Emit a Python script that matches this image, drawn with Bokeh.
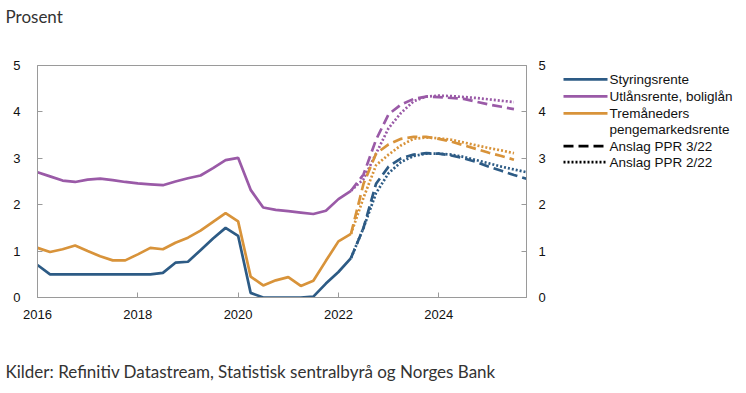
from bokeh.plotting import figure
from bokeh.layouts import row
from bokeh.models import LinearAxis, FixedTicker, Range1d, Title
from bokeh.core.properties import value
from bokeh.embed import file_html
from bokeh.resources import INLINE

# ---------------- data ----------------
hist_x = [2016.0, 2016.25, 2016.5, 2016.75, 2017.0, 2017.25, 2017.5, 2017.75,
          2018.0, 2018.25, 2018.5, 2018.75, 2019.0, 2019.25, 2019.5, 2019.75,
          2020.0, 2020.25, 2020.5, 2020.75, 2021.0, 2021.25, 2021.5, 2021.75,
          2022.0, 2022.25]
styring_hist = [0.70, 0.50, 0.50, 0.50, 0.50, 0.50, 0.50, 0.50,
                0.50, 0.50, 0.53, 0.75, 0.77, 1.02, 1.27, 1.50,
                1.33, 0.10, 0.00, 0.00, 0.00, 0.00, 0.02, 0.30,
                0.55, 0.85]
utlan_hist = [2.70, 2.61, 2.52, 2.49, 2.54, 2.56, 2.53, 2.49,
              2.46, 2.44, 2.42, 2.50, 2.57, 2.63, 2.79, 2.96,
              3.01, 2.32, 1.94, 1.89, 1.86, 1.83, 1.80, 1.87,
              2.12, 2.30]
trem_hist = [1.07, 0.98, 1.04, 1.12, 1.00, 0.89, 0.80, 0.80,
             0.93, 1.07, 1.04, 1.18, 1.29, 1.44, 1.63, 1.82,
             1.64, 0.45, 0.26, 0.37, 0.44, 0.25, 0.36, 0.79,
             1.21, 1.37]

fc_x = [2022.25, 2022.5, 2022.75, 2023.0, 2023.25, 2023.5, 2023.75, 2024.0,
        2024.25, 2024.5, 2024.75, 2025.0, 2025.25, 2025.5, 2025.75]
styring_ppr3 = [0.85, 1.50, 2.45, 2.82, 3.00, 3.08, 3.11, 3.10,
                3.06, 3.00, 2.92, 2.82, 2.73, 2.64, 2.56]
styring_ppr2 = [0.85, 1.50, 2.25, 2.68, 2.92, 3.05, 3.10, 3.10,
                3.08, 3.03, 2.96, 2.89, 2.82, 2.76, 2.70]
fc_x_short = [2022.25, 2022.5, 2022.75, 2023.0, 2023.25, 2023.5, 2023.75, 2024.0,
              2024.25, 2024.5, 2024.75, 2025.0, 2025.25, 2025.5]
utlan_ppr3 = [2.30, 2.65, 3.40, 3.95, 4.16, 4.28, 4.33, 4.32,
              4.30, 4.28, 4.22, 4.16, 4.11, 4.06]
utlan_ppr2 = [2.30, 2.55, 3.10, 3.65, 3.98, 4.23, 4.33, 4.35,
              4.34, 4.32, 4.30, 4.27, 4.24, 4.21]
trem_ppr3 = [1.37, 2.45, 3.10, 3.30, 3.42, 3.46, 3.46, 3.42,
             3.36, 3.28, 3.20, 3.12, 3.05, 2.97]
trem_ppr2 = [1.37, 2.15, 2.85, 3.08, 3.28, 3.42, 3.45, 3.43,
             3.40, 3.34, 3.28, 3.22, 3.17, 3.11]

x_ticks = [2016, 2018, 2020, 2022, 2024]
x_tick_labels = ["2016", "2018", "2020", "2022", "2024"]
y_ticks = [0, 1, 2, 3, 4, 5]

legend_labels = ["Styringsrente", "Utlånsrente, boliglån", "Tremåneders",
                 "pengemarkedsrente", "Anslag PPR 3/22", "Anslag PPR 2/22"]
title_text = "Prosent"
source_text = "Kilder: Refinitiv Datastream, Statistisk sentralbyrå og Norges Bank"

# ---------------- style ----------------
BLUE = "#2d5b85"
PURPLE = "#9a5aa7"
ORANGE = "#d8933a"
AXIS = "#9a9a9a"
FONT = "Liberation Sans"
LW = 2.7
DASH = "10 5"
DOT = "2 2"

p = figure(width=555, height=393, x_range=Range1d(2016, 2025.75),
           y_range=Range1d(0, 5), output_backend="svg", toolbar_location=None,
           min_border_left=37, min_border_right=29, min_border_top=0,
           min_border_bottom=0, background_fill_color="white",
           border_fill_color="white", title=None)
p.grid.visible = False
p.outline_line_color = AXIS
p.outline_line_width = 1

# historical
p.line(hist_x, styring_hist, line_color=BLUE, line_width=LW)
p.line(hist_x, utlan_hist, line_color=PURPLE, line_width=LW)
p.line(hist_x, trem_hist, line_color=ORANGE, line_width=LW)

# forecasts
p.line(fc_x_short, utlan_ppr2, line_color=PURPLE, line_width=LW, line_dash=DOT)
p.line(fc_x_short, utlan_ppr3, line_color=PURPLE, line_width=LW, line_dash=DASH)
p.line(fc_x_short, trem_ppr2, line_color=ORANGE, line_width=LW, line_dash=DOT)
p.line(fc_x_short, trem_ppr3, line_color=ORANGE, line_width=LW, line_dash=DASH)
p.line(fc_x, styring_ppr2, line_color=BLUE, line_width=LW, line_dash=DOT)
p.line(fc_x, styring_ppr3, line_color=BLUE, line_width=LW, line_dash=DASH)

def style_axis(ax, standoff):
    ax.axis_line_color = AXIS
    ax.major_tick_line_color = AXIS
    ax.major_tick_in = 5
    ax.major_tick_out = 0
    ax.minor_tick_line_color = None
    ax.major_label_text_font = FONT
    ax.major_label_text_font_size = "13px"
    ax.major_label_text_color = "#111111"
    ax.major_label_standoff = standoff

p.xaxis.ticker = FixedTicker(ticks=x_ticks)
p.xaxis.major_label_overrides = {t: l for t, l in zip(x_ticks, x_tick_labels)}
style_axis(p.xaxis[0], 12)
p.yaxis.ticker = FixedTicker(ticks=y_ticks)
style_axis(p.yaxis[0], 17)

yr = LinearAxis(ticker=FixedTicker(ticks=y_ticks))
style_axis(yr, 12)
p.add_layout(yr, "right")

def txt_title(text, standoff, size="17px"):
    return Title(text=text, align="left", offset=-32, standoff=standoff,
                 text_font="Lato", text_font_size=size, text_font_style="normal",
                 text_color="#333333")

# above: spacer next to frame, then the title on the outside
p.add_layout(txt_title(" ", 22, "10px"), "above")
p.add_layout(txt_title(title_text, 6), "above")
# below: x axis, spacer, source line
p.add_layout(txt_title(" ", 11, "10px"), "below")
p.add_layout(txt_title(source_text, 24), "below")

# ---------------- legend panel ----------------
# the row aligns this panel's frame with the chart frame (page y 64..297),
# so the ranges below are page pixel coordinates
lg = figure(width=191, height=393, x_range=Range1d(555, 746),
            y_range=Range1d(297, 64), output_backend="svg", toolbar_location=None,
            min_border=0, outline_line_color=None, x_axis_type=None,
            y_axis_type=None, background_fill_color="white",
            border_fill_color="white", title=None)
lg.grid.visible = False

row_y = [78, 95, 112, 128, 145, 161]
sample_rows = [0, 1, 2, 4, 5]
sample_styles = [dict(line_color=BLUE), dict(line_color=PURPLE),
                 dict(line_color=ORANGE),
                 dict(line_color="black", line_dash=DASH),
                 dict(line_color="black", line_dash=DOT)]
for ri, st in zip(sample_rows, sample_styles):
    lg.line(x=[563, 607], y=[row_y[ri], row_y[ri]], line_width=LW, **st)
lg.text(x=[609] * len(legend_labels), y=row_y, text=legend_labels,
        text_font=value(FONT), text_font_size="13.5px", text_color="#111111",
        text_baseline="middle", text_align="left")

layout = row(p, lg, spacing=0)
open("out.html", "w").write(file_html(layout, INLINE))
